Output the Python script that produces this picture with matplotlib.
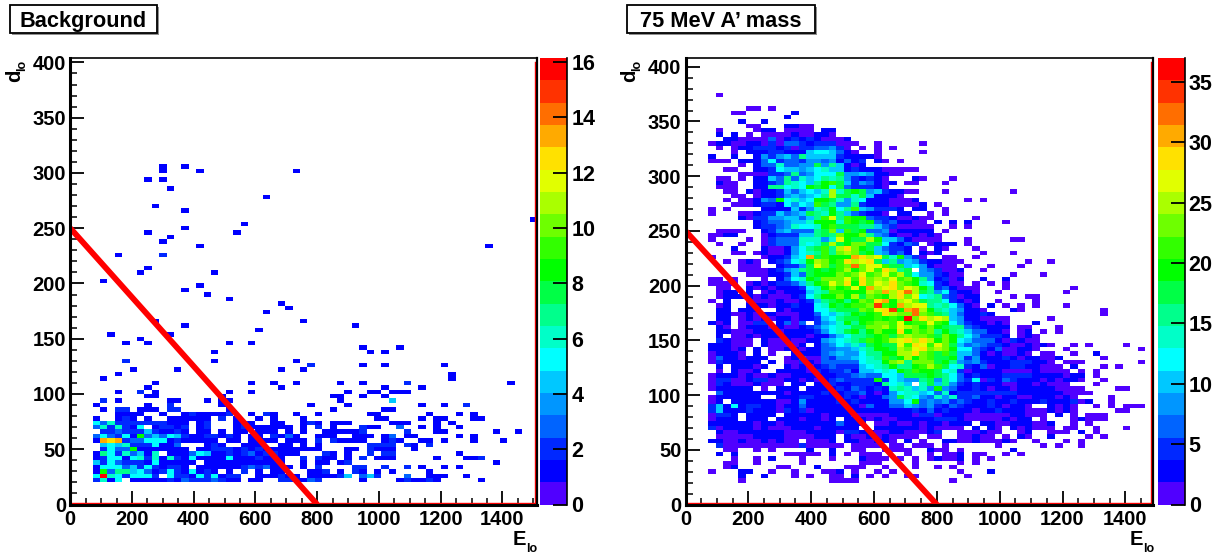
# Two 2D histograms (E_lo vs d_lo) with the red cut line, ROOT style
import numpy as np
import matplotlib
matplotlib.use("Agg")
import matplotlib.pyplot as plt
from matplotlib.colors import ListedColormap, BoundaryNorm
from matplotlib.patches import Rectangle
from matplotlib.ticker import MultipleLocator

plt.rcParams["font.family"] = ["Liberation Sans", "DejaVu Sans"]
plt.rcParams["font.weight"] = "bold"

W, H = 1221, 554
E_BIN = 24
D_BIN = 4

PALETTE = ["#5000ff", "#0000ff", "#0028ff", "#0064ff", "#0096ff", "#00c8ff", "#00ffff",
           "#00ffc8", "#00ff8c", "#00ff46", "#00ff00", "#32ff00", "#6eff00", "#aaff00",
           "#e1ff00", "#ffe100", "#ffaa00", "#ff6e00", "#ff3200", "#ff0000"]

CUT_E = [0, 800]
CUT_D = [250, 0]

# one character per bin, counts in base 36 ("A" = 36)
DIGITS = "0123456789abcdefghijklmnopqrstuvwxyzA"

# ---- Background panel ----
BG_TICKS = [0, 2, 4, 6, 8, 10, 12, 14, 16]

# row -> columns holding a single entry
BG_ONES = {
    76: [12, 15], 75: [12, 17, 30], 73: [10, 12], 71: [13], 69: [26], 67: [11], 66: [15],
    64: [62], 63: [23], 62: [15], 61: [10, 22], 60: [13], 59: [12], 58: [17, 56], 56: [6],
    53: [10], 52: [9, 19], 50: [4], 49: [17], 48: [15], 47: [18], 46: [21], 45: [28],
    44: [29], 43: [26], 41: [11, 31], 40: [15, 38], 39: [25], 38: [5, 13], 37: [9],
    36: [7, 10, 21, 24], 35: [39, 44], 34: [19, 40, 42], 32: [19, 30], 31: [39, 42, 50],
    30: [8, 14, 28, 31], 29: [6, 51], 28: [4, 51], 27: [11, 24, 27, 30, 36, 39, 59],
    26: [10, 28, 42, 47], 25: [6, 11, 21, 24, 37, 40, 41, 43, 44, 45],
    24: [10, 11, 20, 35, 36, 39, 42], 23: [6, 13, 14, 18, 20, 21, 36],
    22: [3, 10, 20, 32, 37, 47, 50], 21: [4, 9, 10, 11, 21, 35, 42, 43],
}
# (column, row, count)
BG_EXTRA = [(32, 31, 2), (12, 56, 2), (7, 32, 2), (9, 25, 2), (4, 23, 2), (13, 22, 2),
            (6, 21, 2), (7, 21, 2), (13, 21, 2), (14, 21, 2), (45, 27, 2), (53, 22, 2),
            (43, 23, 4)]
# low rows, columns 0-30
BG_LOW = {
    20: "0000001111001001211112001021001",
    19: "0001001210100111111020100101000",
    18: "0005362222222111012000121001100",
    17: "0003626215012212012000121111110",
    16: "0000223222421121011010110111010",
    15: "0003532518343542112212101102131",
    14: "0001dcd233555121111101101111011",
    13: "0000454622251130001210011100110",
    12: "0000253381111111011222121211111",
    11: "0001752634160111354112123122111",
    10: "0001255156261621511115111211100",
    9:  "0004253222151111101111111111100",
    8:  "0001555342521221011111123231110",
    7:  "0001837745312521512101020101100",
    6:  "0005g65255520522152512200111211",
    5:  "0002615011111213222321101100221",
}
# low rows, from column 31 on
BG_RIGHT = {
    20: "001000000110000001000101",
    19: "100000000011000010110001 1",
    18: "12101110000011100010 1",
    17: "102010002110030010100 1",
    16: "100111112000002000110000001001",
    15: "00111001110130110000 01 01",
    14: "10202111100121001101000100 01",
    13: "101000000222202102",
    12: "1110001102111001",
    11: "000210100202200000000 1",
    10: "202110102011100000100011 2",
    9:  "1011012" + "0000000000000000000" + "1",
    8:  "10200002200200201001 01",
    7:  "011201021010100001",
    6:  "0111124034200030011100 1",
    5:  "13200000100001211210000 01",
}

# ---- 75 MeV panel ----
SIG_TICKS = [0, 5, 10, 15, 20, 25, 30, 35]

# row -> columns 0-30
SIG_LEFT = {
    93: "00001",
    90: "000000001101",
    89: "000000110000002",
    88: "00000000000002",
    87: "00000002002",
    86: "00000000110002211",
    85: "000010000122011110 22",
    84: "00002020101111211221",
    83: "0000022111161242421112",
    82: "0001221122141664244411100 1",
    81: "000010122444241446684101010 1",
    80: "000000102224422 2ac ca621001000001",
    79: "00020020028" "48a6faaaa422221",
    78: "0001110222 6c46648 8 68262402101",
    77: "0000000102 66d66 88h8fa2 1 2",
    76: "00000110022 4caa8acdaa 24222 11111",
    75: "00000001111 446f68ccc h88a8 2211",
    74: "0000110102 2 a6f6dacfdf 84 2421 00 0 22",
    73: "00002110022 46fdca fjlha48 621 20 11",
    72: "0000111002 2 ffcdcjhjch 6444 21",
    71: "00000110 2122 4a6acadpdhjh8a 42 2 1 1",
    70: "000000110 12 2 48a8acfphhdha 22 2 1",
    69: "0000010 11 2 8 6jcdacjjhd8dc 2 22 111 2",
    68: "000000111 2 442c8ca lhf88f 4 222 11 11",
    67: "0001010000 2222a48dfjcfla84 442 0 22",
    66: "000100011 2 44a68 ahfdjfa6 4221 0 2 2",
    65: "0000000 21 44 88aa6afl rflj j 6442112",
    64: "000000000 2466 8aadjjjdljhj 646 2 21",
    63: "000000000 2446 8dccdjlhhh ffa6 4 111",
    62: "0000111100 2 48a666fhnalhj6 68 1 222",
    61: "00011220001 2444aafhfnjjnf86 2112",
    60: "0001000010 1 466 6ddd8drjhhpja a6 211",
    59: "00001001001 466 6dcdhphjnnhhc4 264",
    58: "0000002000 2112 8cfhlfptnjha6442",
    57: "00000011 0 1 2112 8cdflfnpnhja8462",
    56: "0001000000 1 224acuhljjjvtprhdj8 44",
    55: "0000010 12 1 0 246cdjpnjltprthaf8a8",
    54: "0000000111 00 244 8hrnhlnxnrrlhhac",
    53: "0000000 11 1 1 248afhjhjlpjnrltpfh",
    52: "00000000 111 224a6hjjjnlnrlnrlphc",
    51: "00011 01 000 1 0 26cdjhnnnrltnpnrlnj",
    50: "00011110 121 24 46afjlrntjtnrptnlj",
    49: "00001100 2 12 1 2224cdjnjlrjvprtnrp",
    48: "00001220 2 0 1212 22adflljjjpnvptxpt",
    47: "000012222 1 2 1 112 4cfjjnjphnljptnr",
    46: "00010200 1 11 121 124afhjfjnltvjprn",
    45: "00001200 222 12 24 22cdjhjllnzljvpr",
    44: "00002202 22 00 212 22ccfhhhnlrtzjvx",
    43: "0000221 1 212 2 1 1122 6cadfjhjltpnnx",
    42: "00002201 212 1 221 224acfhhjjljljAn",
    41: "0002120 1 144 02 6 16 048adjfjlnnlrjl",
    40: "00002101 222 1 2 11 2 46acddhhnnplrpn",
    39: "00002211 1 222 1 2222 48cdhjfjnjjtjn",
    38: "00002011 2 1 2 2 222 2 1 22 6acffhjlhnpnr",
    37: "00004211 1 0 2 11 2 11 22 8acdfhljlprtp",
    36: "00022211 1 0 2 111 12 0 2 68cadahjhhrlt",
    35: "00022212 0 2 0 11 22 12 2 668 8adfjjhpnr",
    34: "00012221 0 2 0 1 00 2222 68a88cffjjppt",
    33: "00016221 222 00 12 6 11 648 8acdflhjpj",
    32: "00014222 22 0 2 0 11 4 21 6666 6cddjnpfn",
    31: "00002022 21 2 00 21 2 12 4644 4acdfjffj",
    30: "00001021 12 00 2 222 14 2 446 2aacdcjhl",
    29: "00012221 2 11 2 11 2 222 22 4 46 86 6cca hh",
    28: "00014411 2 44 11 22 1 21 2 464 44 4j4ca88",
    27: "00014211 1 2 11 10 22 02 2 42 244 4 2fcda",
    26: "00012222 2 01 0 222 02222 42 642 42dfda",
    25: "00006222 222 22 1 222 2 42 2 4462 12 8cdd",
    24: "00012222 22 00 222 44 2222 42 122 68hdc",
    23: "00012022 22 22 11 28 222 24 24 222 2 88cj",
    22: "0004a2c2 44 22 12 26 222222 2 16 22 66a8",
    21: "0004a222 42 22 14 24 12 222222 222 222 42",
    20: "00014420 22 22 0 22222 12 22 111 11 222 12",
    19: "00012220 22 20 22 2 12 21 20 2 22 12 11 222",
    18: "00022222 21 22 12 2222 226 222 0 11 2 11 22",
    17: "00041222 21 21 11 222 12 2222 00 22 2222 1",
    16: "00002112 22 22 21 11 2222 14 42 21 12 21 1",
    15: "00001111 12 22 21 11 122 20 21 12 12 11 11",
    14: "00022112 11 21 21 10 11 12 02 21 12 21 02 0",
    13: "00004111 11 11 11 1 4 1 11 11 01 11 10 11 01",
    12: "00000110 01 01 00 00 20 02 00 11 00 11 11 0",
    11: "00002020 00 00 01 11 11 02 01 01 11 00 01",
    10: "00000010 01 02 00 01 00 01 00 02 11 10 10 1",
    9:  "00000110 01 00 00 01 00 00 00 01 11 00 00 1",
    8:  "00000120 00 00 11 00 02 00 01 11 00 10 00 1",
    7:  "00010002 2 00 10 01 00 01 12 01 00 10 10",
    6:  "00000002 00 20 00 10 10 01 10 20 10 10 011",
    5:  "00000001 00 00 00 00 00 01 11 1",
}
# row -> columns from 31 on
SIG_RIGHT = {
    82: "1", 74: "10001", 73: "0001", 71: "0001000000001", 69: "000000101", 68: "201",
    67: "2001", 66: "0101", 65: "11000001", 64: "102020200001", 63: "110010 1",
    62: "2201", 61: "121", 60: "111000100000 11", 59: "0122201", 58: "10210001",
    57: "212000001000 1", 56: "100110 01", 55: "42211100000000100 1",
    54: "82111010010001", 53: "864112001", 52: "88421100000010001",
    51: "f8241200200 2", 50: "dc4211010101", 49: "jf46211100010000000 01",
    48: "hf8c4221001000000001", 47: "cdf6412200001011", 46: "hffc42120010000 1",
    45: "rfdfc62102010101000 1", 44: "pjfda82210002100000000001",
    43: "nlhfa62242" "00000000000000" "1", 42: "tprpa8221111000001",
    41: "lrljc84221210002", 40: "jnjhff64222201100 01", 39: "lnfjfda66221012010 1",
    38: "nlhnjfc844420121", 37: "tpjnjca666214211",
    36: "rlrnha68644211212100 1010000 1", 35: "tnpnjcc64261122100010000000001",
    34: "nlhlhaa6212112101100 1002", 33: "nlhhja48222421221120000 01",
    32: "nnhjf868422244422 1011100000001", 31: "lplhcd426122442211 10200010 1",
    30: "jjhcd412222111121111 0101", 29: "hjhfc6242224444222 21220 1",
    28: "fh8fc64c142642221212210 01", 27: "dhaf8424222112212111000 1",
    26: "d8j8622421221222221111000011", 25: "ac6d24444444422222211 11",
    24: "86d8d44622122112221210000 1", 23: "68684642242242224222412001",
    22: "684264222421221002121001 01 0111", 21: "26242221224222111212100000 11",
    20: "441222111111221110201 0111", 19: "22444211111212201000 12111",
    18: "12212220221122211200101", 17: "12111102021021211 101100100 01",
    16: "12400111211001 200111020 1", 15: "01100112110102100200001 01",
    14: "10022112111210010001 01", 13: "1101000000100000101 001",
    12: "02110100000 02", 11: "0101120110 0101", 10: "0121120101",
    9: "00000101", 8: "00101", 7: "000001 0002", 6: "0000001", 5: "00001",
}


def grille(n_cols, n_rows):
    return np.zeros((n_rows, n_cols))


def remplir(z, rows, start=0):
    # strings -> counts in the histogram array
    for r, texte in rows.items():
        texte = texte.replace(" ", "")
        for i, c in enumerate(texte):
            if c != "0" and start + i < z.shape[1]:
                z[r, start + i] = DIGITS.index(c)


def fig_rect(left, top, right, bottom):
    return [left / W, 1 - bottom / H, (right - left) / W, (bottom - top) / H]


def titre(fig, texte, left, top, right, bottom):
    fig.add_artist(Rectangle((left / W + 2 / W, 1 - (bottom + 2) / H), (right - left) / W, (bottom - top) / H,
                             transform=fig.transFigure, fc="#909090", ec="none"))
    fig.add_artist(Rectangle((left / W, 1 - bottom / H), (right - left) / W, (bottom - top) / H,
                             transform=fig.transFigure, fc="white", ec="black", lw=1.3))
    fig.text((left + right) / 2 / W, 1 - (top + bottom) / 2 / H, texte, fontsize=15.7, fontweight="bold",
             ha="center", va="center_baseline", zorder=5)


def etiquette(fig, texte, x, y, taille, rotation=0):
    # x, y in pixels, at the text baseline start
    fig.text(x / W, 1 - y / H, texte, fontsize=taille, rotation=rotation, rotation_mode="anchor",
             ha="left", va="baseline")


def panneau(fig, rect, cbar_rect, z, step, xmax, ymax, ztop, zticks, ylab_x, xlab_x):
    cmap = ListedColormap(PALETTE)
    norm = BoundaryNorm([step * i for i in range(21)], 20)
    ax = fig.add_axes(rect)
    xe = np.arange(z.shape[1] + 1) * E_BIN
    ye = np.arange(z.shape[0] + 1) * D_BIN
    ax.pcolormesh(xe, ye, np.ma.masked_equal(np.minimum(z, step * 20 - 0.01), 0), cmap=cmap, norm=norm,
                  linewidth=0, rasterized=True)
    ax.plot(CUT_E, CUT_D, color="#ff0000", lw=4.2, solid_capstyle="butt", clip_on=True)
    ax.set_xlim(0, xmax)
    ax.set_ylim(0, ymax)

    ax.xaxis.set_major_locator(MultipleLocator(200))
    ax.xaxis.set_minor_locator(MultipleLocator(50))
    ax.yaxis.set_major_locator(MultipleLocator(50))
    ax.yaxis.set_minor_locator(MultipleLocator(10))
    ax.tick_params(which="major", direction="in", length=10, width=1.3, labelsize=14.5, pad=4)
    ax.tick_params(which="minor", direction="in", length=5, width=1.1)
    ax.tick_params(axis="y", which="major", pad=3)
    for cote in ["left", "bottom"]:
        ax.spines[cote].set_linewidth(2.2)
    ax.spines["top"].set_linewidth(1.2)
    ax.spines["right"].set_linewidth(1.6)

    # thin red outline just inside the frame
    ax.plot([0, 1], [0.004, 0.004], transform=ax.transAxes, color="#ff0000", lw=1.0)
    ax.plot([0.996, 0.996], [0, 0.99], transform=ax.transAxes, color="#ff0000", lw=1.0)

    etiquette(fig, "d", ylab_x, 82, 14.5, rotation=90)
    etiquette(fig, "lo", ylab_x + 5.5, 71, 9, rotation=90)
    etiquette(fig, "E", xlab_x, 545, 14.5)
    etiquette(fig, "lo", xlab_x + 13.5, 551.5, 9)

    cax = fig.add_axes(cbar_rect)
    bandes = np.linspace(0, ztop, 21)
    niveaux = np.arange(20).reshape(20, 1)
    cax.pcolormesh([0, 1], bandes, niveaux, cmap=cmap, vmin=0, vmax=19, linewidth=0, rasterized=True)
    cax.set_ylim(0, ztop)
    cax.set_xlim(0, 1)
    cax.set_xticks([])
    cax.yaxis.tick_right()
    cax.set_yticks(zticks)
    cax.tick_params(axis="y", direction="in", length=10, width=1.3, labelsize=15.5, pad=3)
    for cote in ["left", "top", "bottom"]:
        cax.spines[cote].set_visible(False)
    cax.spines["right"].set_linewidth(1.2)


def creer_graphique():
    fig = plt.figure(figsize=(W / 100, H / 100), dpi=100)

    z_bg = grille(63, 101)
    remplir(z_bg, BG_LOW)
    remplir(z_bg, BG_RIGHT, start=31)
    for r, cols in BG_ONES.items():
        for k in cols:
            z_bg[r, k] = 1
    for k, r, n in BG_EXTRA:
        z_bg[r, k] = n

    z_sig = grille(62, 102)
    remplir(z_sig, SIG_LEFT)
    remplir(z_sig, SIG_RIGHT, start=31)

    panneau(fig, fig_rect(70.3, 58, 537, 504.5), fig_rect(540, 58, 567, 504.5), z_bg, 0.8, 1512, 404, 16.15,
            BG_TICKS, 20, 513)
    panneau(fig, fig_rect(685.5, 58, 1153, 504.5), fig_rect(1158, 58, 1184.5, 504.5), z_sig, 1.85, 1488, 408, 37,
            SIG_TICKS, 635, 1130)

    titre(fig, "Background", 10, 5, 157, 33)
    titre(fig, "75 MeV A’ mass", 627, 5, 815, 33)

    fig.savefig("out.png", dpi=100)


if __name__ == "__main__":
    creer_graphique()
